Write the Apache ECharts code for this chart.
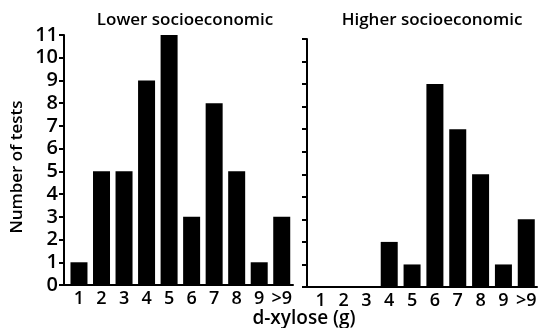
<!DOCTYPE html>
<html><head><meta charset="utf-8">
<script src="https://cdn.jsdelivr.net/npm/echarts@6/dist/echarts.min.js"></script>
<style>html,body{margin:0;padding:0;background:#fff}#c{width:540px;height:328px}</style>
</head><body><div id="c"></div>
<script>
const categories = ['1','2','3','4','5','6','7','8','9','>9'];
const lowerSE = [1,5,5,9,11,3,8,5,1,3];
const higherSE = [0,0,0,2,1,9,7,5,1,3];
const yTicks = [0,1,2,3,4,5,6,7,8,9,10,11];
const titles = ['Lower socioeconomic','Higher socioeconomic'];
const xName = 'd-xylose (g)';
const yName = 'Number of tests';

const FONT = 'Open Sans';
const W = 600;
const pos = categories.map((c,i)=>i+1);
const chart = echarts.init(document.getElementById('c'));
const xAx = (gi, mn, mx) => ({
  type:'value', gridIndex: gi, min: mn, max: mx,
  axisLine:{show:true, lineStyle:{color:'#000', width:2}},
  axisTick:{show:false}, splitLine:{show:false},
  axisLabel:{customValues: pos, formatter: v => categories[Math.round(v)-1] || '',
    color:'#000', fontFamily: FONT, fontSize:18, fontWeight:W, margin:5}
});
const yAx = (gi, showLabel) => ({
  type:'value', gridIndex: gi, min: 0, max: 11, interval: 1,
  axisLine:{show:true, lineStyle:{color:'#000', width:2}},
  axisTick:{show:true, length:5, lineStyle:{color:'#000', width:2}},
  splitLine:{show:false},
  axisLabel:{show: showLabel, color:'#000', fontFamily: FONT, fontSize:20, fontWeight:W, margin:6,
    formatter: v => yTicks.includes(v) ? String(v) : ''},
  name: showLabel ? yName : '', nameLocation:'middle', nameRotate:90, nameGap:38,
  nameTextStyle:{color:'#000', fontFamily: FONT, fontSize:17, fontWeight:W, padding:[0,0,0,-14]}
});
chart.setOption({
  animation:false,
  title:[
    {text: titles[0], left:180, top:7, textAlign:'center', textStyle:{fontFamily:FONT, fontSize:17, fontWeight:W, color:'#000'}},
    {text: titles[1], left:427, top:7, textAlign:'center', textStyle:{fontFamily:FONT, fontSize:17, fontWeight:W, color:'#000'}},
    {text: xName, left:299, top:304, textAlign:'center', textStyle:{fontFamily:FONT, fontSize:19, fontWeight:W, color:'#000'}}
  ],
  grid:[
    {left:64, top:35, width:229, height:250},
    {left:307, top:39, width:230, height:248}
  ],
  xAxis:[ xAx(0, 0.335, 10.5), xAx(1, 0.4, 10.47) ],
  yAxis:[ yAx(0, true), yAx(1, false) ],
  series:[
    {type:'bar', xAxisIndex:0, yAxisIndex:0, barWidth:17, itemStyle:{color:'#000'},
      data: lowerSE.map((v,i)=>[pos[i], v])},
    {type:'bar', xAxisIndex:1, yAxisIndex:1, barWidth:17, itemStyle:{color:'#000'},
      data: higherSE.map((v,i)=>[pos[i], v])}
  ]
});
</script></body></html>
